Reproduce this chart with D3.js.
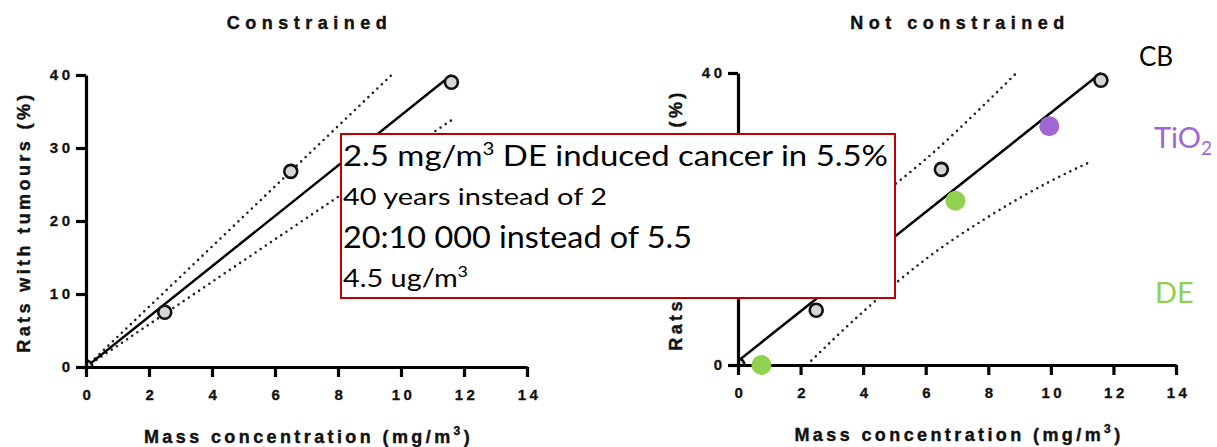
<!DOCTYPE html>
<html lang="en">
<head>
    <meta charset="UTF-8">
    <title>Rats with tumours vs mass concentration</title>
    <script src="https://d3js.org/d3.v7.min.js"></script>
    <style>
        body { margin: 0; background: #fff; }
        svg { display: block; }
        .axis path, .axis line { stroke: #000; stroke-width: 3.2; fill: none; }
        .axis text { font: bold 15px "Liberation Sans", Arial, sans-serif; letter-spacing: 3.5px; fill: #111; stroke: #111; stroke-width: 0.3; }
        .title { font: bold 18px "Liberation Sans", Arial, sans-serif; letter-spacing: 5.5px; fill: #111; stroke: #111; stroke-width: 0.4; }
        .axis-title { font: bold 18px "Liberation Sans", Arial, sans-serif; letter-spacing: 3.4px; fill: #111; stroke: #111; stroke-width: 0.4; }
        .note { font-family: Lato, "Open Sans", sans-serif; fill: #000; }
    </style>
</head>
<body>
<div id="chart"></div>
<script>
    // data
    const xTicks = [0, 2, 4, 6, 8, 10, 12, 14];
    const yTicks = [0, 10, 20, 30, 40];
    const cbPoints = [[0, 0], [2.5, 7.5], [6.5, 26.8], [11.6, 39]];
    const dePoints = [[0.75, 0], [6.95, 22.5]];
    const tio2Points = [[9.95, 32.7]];

    // constrained fit (through origin) + bands
    const conFit = [[0, 0], [11.6, 40]];
    const conUpper = [[0, 0], [9.7, 40]];
    const conLower = [[0, 0], [11.6, 33.8]];

    // unconstrained fit + bands
    const freeFit = [[0, 0.55], [11.6, 40]];
    const freeUpper = [[0, 11.5], [2, 16.1], [4, 21.5], [6, 28.2], [8, 36.2], [8.9, 40]];
    const freeLower = [[2.2, 0], [4, 7.3], [6, 14.5], [8, 20.3], [10, 25.2], [11.3, 27.9]];

    const svg = d3.select("#chart").append("svg")
        .attr("width", 1217)
        .attr("height", 447);

    function panel(opt) {
        const x = d3.scaleLinear().domain([0, 14]).range([opt.x0, opt.x1]);
        const y = d3.scaleLinear().domain([0, 40]).range([opt.y0, opt.y1]);
        const g = svg.append("g");

        const clipId = "clip-" + opt.id;
        svg.append("clipPath").attr("id", clipId)
           .append("rect")
           .attr("x", opt.x0).attr("y", opt.y1 - 20)
           .attr("width", opt.x1 - opt.x0 + 20).attr("height", opt.y0 - opt.y1 + 20);

        const line = d3.line().x(d => x(d[0])).y(d => y(d[1])).curve(d3.curveMonotoneX);

        const plot = g.append("g").attr("clip-path", `url(#${clipId})`);

        [opt.upper, opt.lower].forEach(band => {
            plot.append("path")
                .datum(band)
                .attr("fill", "none")
                .attr("stroke", "#222")
                .attr("stroke-width", 2.6)
                .attr("stroke-linecap", "round")
                .attr("stroke-dasharray", "0 6.2")
                .attr("d", line);
        });

        plot.append("path")
            .datum(opt.fit)
            .attr("fill", "none")
            .attr("stroke", "#000")
            .attr("stroke-width", 2.5)
            .attr("d", line);

        plot.selectAll("circle.cb")
            .data(cbPoints)
            .join("circle")
            .attr("class", "cb")
            .attr("cx", d => x(d[0]))
            .attr("cy", d => y(d[1]))
            .attr("r", 6.5)
            .attr("fill", "#d6d6d6")
            .attr("stroke", "#111")
            .attr("stroke-width", 2.6);

        // axes
        const ya = g.append("g")
            .attr("class", "axis")
            .attr("transform", `translate(${opt.x0},0)`)
            .call(d3.axisLeft(y).tickValues(yTicks).tickSize(10).tickSizeOuter(0).tickPadding(1));
        ya.selectAll("text").attr("dx", "-0.1em");

        const xa = g.append("g")
            .attr("class", "axis")
            .attr("transform", `translate(0,${opt.y0})`)
            .call(d3.axisBottom(x).tickValues(xTicks).tickSize(10).tickSizeOuter(0).tickPadding(12));
        xa.selectAll("text").attr("dx", 2);

        // titles
        const cx = (opt.x0 + opt.x1) / 2;
        g.append("text")
            .attr("class", "title")
            .attr("x", cx + 3).attr("y", 29)
            .attr("text-anchor", "middle")
            .text(opt.title);

        const xt = g.append("text")
            .attr("class", "axis-title")
            .attr("x", cx + 2).attr("y", opt.y0 + 76)
            .attr("text-anchor", "middle");
        xt.append("tspan").text("Mass concentration (mg/m");
        xt.append("tspan").attr("dy", -8).style("font-size", "12px").text("3");
        xt.append("tspan").attr("dy", 8).text(")");

        g.append("text")
            .attr("class", "axis-title")
            .attr("transform", `translate(${opt.x0 - 56},${(opt.y0 + opt.y1) / 2 + 1}) rotate(-90)`)
            .attr("text-anchor", "middle")
            .text("Rats with tumours (%)");

        return {x, y, g};
    }

    panel({id: "a", title: "Constrained", x0: 86, x1: 527, y0: 367, y1: 75,
           fit: conFit, upper: conUpper, lower: conLower});
    const right = panel({id: "b", title: "Not constrained", x0: 738, x1: 1176, y0: 365, y1: 73,
           fit: freeFit, upper: freeUpper, lower: freeLower});

    // other particles on right panel
    right.g.selectAll("circle.de")
        .data(dePoints)
        .join("circle")
        .attr("class", "de")
        .attr("cx", d => right.x(d[0]))
        .attr("cy", d => right.y(d[1]))
        .attr("r", 10)
        .attr("fill", "#92d050");
    right.g.selectAll("circle.tio2")
        .data(tio2Points)
        .join("circle")
        .attr("class", "tio2")
        .attr("cx", d => right.x(d[0]))
        .attr("cy", d => right.y(d[1]))
        .attr("r", 10)
        .attr("fill", "#a066d3");

    // series labels
    svg.append("text").attr("class", "note").attr("x", 1139).attr("y", 66)
        .style("font-size", "26px").text("CB");
    const tio = svg.append("text").attr("class", "note").attr("x", 1154).attr("y", 148)
        .style("font-size", "29px").style("fill", "#a066d3");
    tio.append("tspan").text("TiO");
    tio.append("tspan").attr("dy", 7).style("font-size", "19px").text("2");
    svg.append("text").attr("class", "note").attr("x", 1155).attr("y", 303)
        .style("font-size", "29px").style("fill", "#92d050").text("DE");

    // annotation box
    svg.append("rect")
        .attr("x", 341).attr("y", 134)
        .attr("width", 554).attr("height", 164)
        .attr("fill", "#fff")
        .attr("stroke", "#c00000")
        .attr("stroke-width", 2);

    const noteLines = [
        {y: 166, size: 28, w: 545, parts: ["2.5 mg/m", "3", " DE induced cancer in 5.5%"]},
        {y: 205, size: 24, w: 264, parts: ["40 years instead of 2"]},
        {y: 248, size: 30, w: 349, parts: ["20:10 000 instead of 5.5"]},
        {y: 287, size: 25, w: 125, parts: ["4.5 ug/m", "3"]}
    ];
    noteLines.forEach(l => {
        const t = svg.append("text").attr("class", "note")
            .attr("x", 343).attr("y", l.y)
            .style("font-size", l.size + "px")
            .attr("textLength", l.w)
            .attr("lengthAdjust", "spacingAndGlyphs");
        l.parts.forEach((p, i) => {
            if (i === 1) {
                t.append("tspan").attr("dy", -l.size * 0.4).style("font-size", (l.size * 0.62) + "px").text(p);
            } else if (i === 2) {
                t.append("tspan").attr("dy", l.size * 0.4).text(p);
            } else {
                t.append("tspan").text(p);
            }
        });
    });
</script>
</body>
</html>
